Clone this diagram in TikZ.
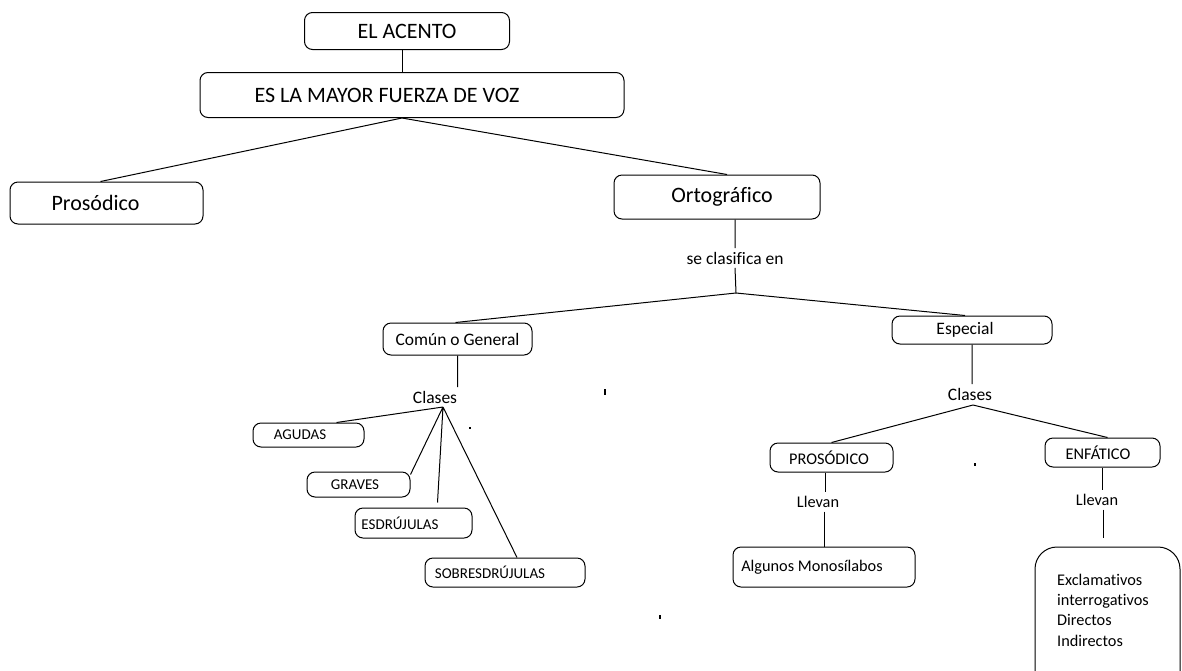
\documentclass[tikz,border=0pt]{standalone}
\usepackage{fontspec}
\setmainfont{Carlito}[Ligatures=CommonOff]

\begin{document}
\begin{tikzpicture}[x=1pt,y=-1pt,line width=1pt,
  caja/.style={draw,rounded corners=8pt,inner sep=0pt},
  grande/.style={font=\fontsize{22}{26}\selectfont},
  medio/.style={font=\fontsize{17.5}{21}\selectfont},
  normal/.style={font=\fontsize{16.3}{20.3}\selectfont},
  chico/.style={font=\fontsize{15}{18}\selectfont}]
  \useasboundingbox (0,0) rectangle (1182,670);
  % top part
  \node[caja,grande,minimum width=205pt,minimum height=37pt](acento) at (407,31){EL ACENTO};
  \node[caja,grande,minimum width=424pt,minimum height=45pt](voz) at (412,95){ES LA MAYOR FUERZA DE VOZ\hspace*{50pt}};
  \node[caja,grande,minimum width=193pt,minimum height=42pt](prosodico) at (106.5,203){Prosódico\hspace*{22pt}};
  \node[caja,grande,minimum width=206pt,minimum height=44pt](orto) at (717,197){\hspace*{10pt}Ortográfico};
  \node[medio](clasif) at (735,258){se clasifica en};
  \coordinate(jv) at ([xshift=-10pt]voz.south);
  \coordinate(jc) at (736,293);
  \draw([xshift=-5pt]acento.south)--([xshift=-5pt]acento.south |- voz.north);
  \draw(jv)--([xshift=-6pt]prosodico.north)(jv)--([xshift=10pt]orto.north);
  \draw(clasif.north |- orto.south)--(clasif.north)(clasif.south)--(jc);
  % comun o general
  \node[caja,medio,minimum width=149pt,minimum height=32pt](comun) at (457.5,339){Común o General};
  \node[medio](clasesA) at (435,397){Clases};
  \coordinate(jA) at (443,407);
  \node[caja,chico,minimum width=111pt,minimum height=24pt](agudas) at (308.5,435){AGUDAS\hspace*{17pt}};
  \node[caja,chico,minimum width=103pt,minimum height=25pt](graves) at (358.5,484.5){GRAVES\hspace*{7pt}};
  \node[caja,chico,minimum width=117pt,minimum height=30pt](esdru) at (413.5,523){ESDRÚJULAS\hspace*{27pt}};
  \node[caja,chico,minimum width=160pt,minimum height=29pt](sobre) at (505,572.5){SOBRESDRÚJULAS\hspace*{30pt}};
  \draw(jc)--([xshift=-2pt]comun.north)(comun.south)--(comun.south |- clasesA.north);
  \draw(jA)--([xshift=28pt]agudas.north)(jA)--([yshift=-3pt]graves.north east)(jA)--([xshift=24pt,yshift=5pt]esdru.north)(jA)--([xshift=12pt]sobre.north);
  % especial
  \node[caja,medio,minimum width=160pt,minimum height=28pt](especial) at (972,330){Especial\hspace*{14pt}};
  \node[medio](clasesB) at (970,394){Clases};
  \coordinate(jB) at (973,405);
  \node[caja,normal,minimum width=123pt,minimum height=29pt](prosod) at (831.5,457.5){PROSÓDICO\hspace*{5pt}};
  \node[caja,normal,minimum width=115pt,minimum height=29pt](enfatico) at (1102.5,452.5){ENFÁTICO\hspace*{9pt}};
  \node[normal](llevanA) at (818,502){Llevan};
  \node[normal](llevanB) at (1097,500){Llevan};
  \node[caja,normal,minimum width=182pt,minimum height=40pt](mono) at (824,567){Algunos Monosílabos\hspace*{24pt}};
  \node[caja,rounded corners=22pt,minimum width=145pt,minimum height=156pt](bigbox) at (1107.5,625){};
  \node[normal,align=left](tipos) at (1103,610){Exclamativos\\interrogativos\\Directos\\Indirectos};
  \coordinate(jE) at ([xshift=-4pt,yshift=9pt]bigbox.north);
  \draw(jc)--([xshift=-7pt]especial.north)(especial.south)--(especial.south |- clasesB.north);
  \draw(jB)--(prosod.north)(jB)--([xshift=5pt]enfatico.north);
  \draw([xshift=-6pt]prosod.south)--([xshift=-6pt]prosod.south |- llevanA.north)(mono.north |- llevanA.south)--(mono.north);
  \draw(enfatico.south)--(enfatico.south |- llevanB.north)(jE |- llevanB.south)--(jE);
  % stray dots
  \fill(604,389) rectangle (606,395);
  \fill(469,427) rectangle (471,429);
  \fill(974,463) rectangle (976,466);
  \fill(659,615) rectangle (661,619);
\end{tikzpicture}
\end{document}
